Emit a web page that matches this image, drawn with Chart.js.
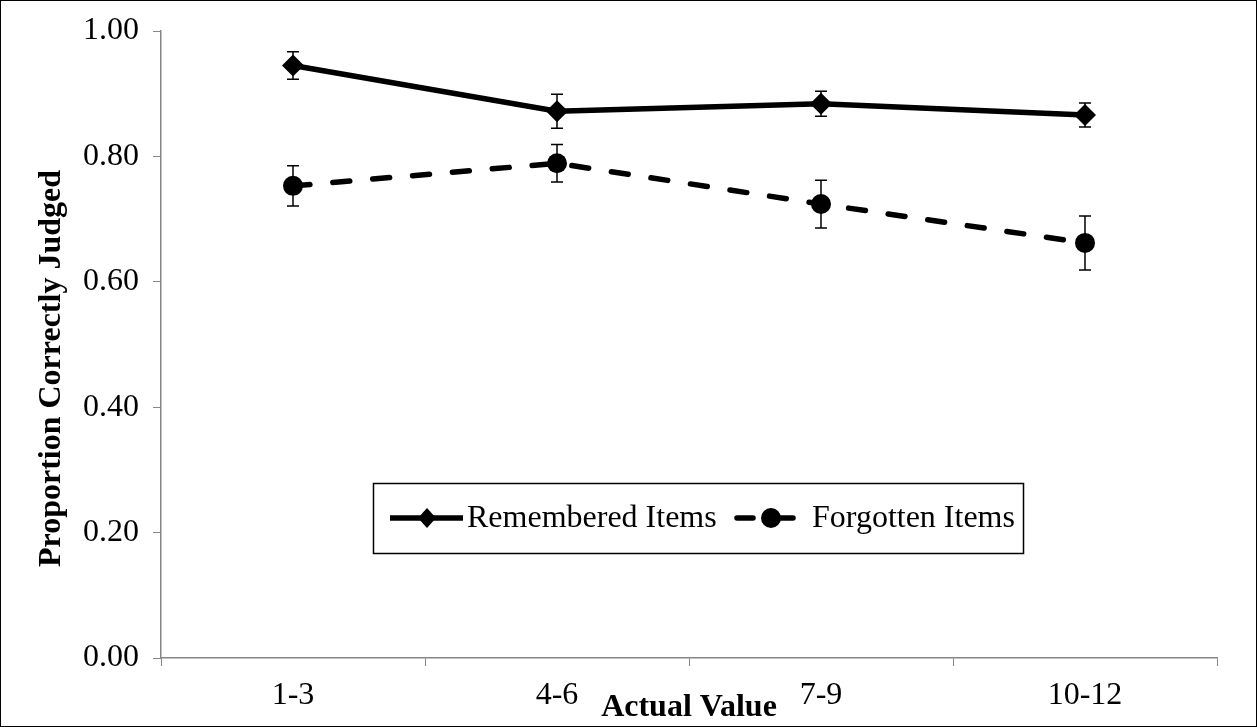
<!DOCTYPE html>
<html>
<head>
<meta charset="utf-8">
<script src="https://cdn.jsdelivr.net/npm/chart.js@4.4.1/dist/chart.umd.min.js"></script>
<style>
    html, body { margin: 0; padding: 0; background: #fff; }
    #wrap { width: 1257px; height: 727px; position: relative; }
</style>
</head>
<body>
<div id="wrap"><canvas id="myChart"></canvas></div>
<script>
const categories = ['1-3', '4-6', '7-9', '10-12'];
const rememberedValues = [0.945, 0.872, 0.884, 0.866];
const rememberedErrors = [0.022, 0.027, 0.020, 0.019];
const forgottenValues = [0.753, 0.789, 0.724, 0.662];
const forgottenErrors = [0.032, 0.030, 0.038, 0.043];
const seriesNames = ['Remembered Items', 'Forgotten Items'];

const serif = "'Liberation Serif', 'Times New Roman', serif";
const axisGray = '#868686';

// error bars drawn from the data arrays through the y scale
const errorBars = {
    id: 'errorBars',
    beforeDatasetsDraw(chart) {
        const ctx = chart.ctx;
        const y = chart.scales.y;
        const errs = [rememberedErrors, forgottenErrors];
        ctx.save();
        ctx.strokeStyle = '#000';
        ctx.lineWidth = 1.5;
        chart.data.datasets.forEach((ds, i) => {
            const meta = chart.getDatasetMeta(i);
            meta.data.forEach((pt, j) => {
                const top = y.getPixelForValue(ds.data[j] + errs[i][j]);
                const bot = y.getPixelForValue(ds.data[j] - errs[i][j]);
                ctx.beginPath();
                ctx.moveTo(pt.x, top); ctx.lineTo(pt.x, bot);
                ctx.moveTo(pt.x - 6, top); ctx.lineTo(pt.x + 6, top);
                ctx.moveTo(pt.x - 6, bot); ctx.lineTo(pt.x + 6, bot);
                ctx.stroke();
            });
        });
        ctx.restore();
    }
};

// boxed legend inside the plot, plus the outer frame
const boxLegend = {
    id: 'boxLegend',
    afterDraw(chart) {
        const ctx = chart.ctx;
        ctx.save();
        ctx.strokeStyle = '#000';
        ctx.lineWidth = 1;
        ctx.strokeRect(0.5, 0.5, 1256, 726);

        ctx.lineWidth = 1.5;
        ctx.strokeRect(373.5, 483.5, 650, 70);

        const ly = 518;
        ctx.lineWidth = 5.5;
        ctx.beginPath();
        ctx.moveTo(390, ly); ctx.lineTo(463, ly);
        ctx.stroke();
        ctx.fillStyle = '#000';
        ctx.beginPath();
        ctx.moveTo(427, ly - 10); ctx.lineTo(436, ly); ctx.lineTo(427, ly + 10); ctx.lineTo(418, ly);
        ctx.closePath();
        ctx.fill();

        ctx.setLineDash([16, 24]);
        ctx.lineCap = 'round';
        ctx.beginPath();
        ctx.moveTo(737, ly); ctx.lineTo(797, ly);
        ctx.stroke();
        ctx.setLineDash([]);
        ctx.beginPath();
        ctx.arc(771, ly, 10, 0, Math.PI * 2);
        ctx.fill();

        ctx.font = '32px ' + serif;
        ctx.textBaseline = 'middle';
        ctx.textAlign = 'left';
        ctx.fillText(seriesNames[0], 467, ly + 1);
        ctx.fillText(seriesNames[1], 812, ly + 1);
        ctx.restore();
    }
};

const ctx = document.getElementById('myChart').getContext('2d');
new Chart(ctx, {
    type: 'line',
    data: {
        labels: categories,
        datasets: [
            {
                label: seriesNames[0],
                data: rememberedValues,
                borderColor: '#000',
                backgroundColor: '#000',
                borderWidth: 5.5,
                pointStyle: 'rectRot',
                pointRadius: 11,
                pointBorderWidth: 0,
                tension: 0
            },
            {
                label: seriesNames[1],
                data: forgottenValues,
                borderColor: '#000',
                backgroundColor: '#000',
                borderWidth: 5.5,
                borderDash: [17, 23],
                borderCapStyle: 'round',
                pointStyle: 'circle',
                pointRadius: 10,
                pointBorderWidth: 0,
                tension: 0
            }
        ]
    },
    options: {
        responsive: true,
        maintainAspectRatio: false,
        animation: false,
        layout: { padding: { left: 0, top: 31, right: 40, bottom: 0 } },
        plugins: {
            legend: { display: false },
            tooltip: { enabled: false }
        },
        scales: {
            x: {
                offset: true,
                afterFit: s => { s.height = 69; },
                grid: { offset: true, drawOnChartArea: false, color: axisGray, tickLength: 8 },
                border: { color: axisGray, width: 1.5 },
                ticks: { color: '#000', font: { family: serif, size: 32 }, padding: 10, maxRotation: 0 },
                title: {
                    display: true,
                    text: 'Actual Value',
                    color: '#000',
                    font: { family: serif, size: 32, weight: 'bold', lineHeight: 1 },
                    padding: { top: 0, bottom: 3 }
                }
            },
            y: {
                min: 0,
                max: 1,
                afterFit: s => { s.width = 161; },
                grid: { drawOnChartArea: false, color: axisGray, tickLength: 8 },
                border: { color: axisGray, width: 1.5 },
                ticks: {
                    stepSize: 0.2,
                    color: '#000',
                    font: { family: serif, size: 32, lineHeight: 1 },
                    padding: 14,
                    callback: v => v.toFixed(2)
                },
                title: {
                    display: true,
                    // trailing spaces push the centred title down a little, as in the original
                    text: 'Proportion Correctly Judged      ',
                    color: '#000',
                    font: { family: serif, size: 32, weight: 'bold', lineHeight: 1 },
                    padding: { top: 36, bottom: 0 }
                }
            }
        }
    },
    plugins: [errorBars, boxLegend]
});
</script>
</body>
</html>
